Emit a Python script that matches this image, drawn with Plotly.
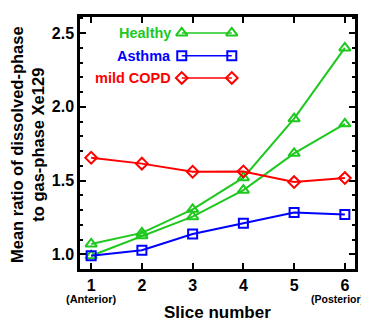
import plotly.graph_objects as go

slices = [1, 2, 3, 4, 5, 6]
healthy_a = [1.07, 1.145, 1.305, 1.52, 1.92, 2.40]
healthy_b = [0.99, 1.125, 1.255, 1.435, 1.685, 1.885]
asthma = [0.99, 1.027, 1.137, 1.21, 1.284, 1.27]
copd = [1.655, 1.615, 1.56, 1.562, 1.49, 1.517]

x_ticks = [1, 2, 3, 4, 5, 6]
y_ticks = [1.0, 1.5, 2.0, 2.5]
y_ticklabels = ["1.0", "1.5", "2.0", "2.5"]

legend_names = ["Healthy", "Asthma", "mild COPD"]
legend_y = [0.937, 0.846, 0.758]

GREEN = "rgb(30,200,30)"
BLUE = "rgb(0,0,255)"
RED = "rgb(255,0,0)"
FONT = "Arial, Liberation Sans, Helvetica, sans-serif"

colors = [GREEN, BLUE, RED]
symbols = ["triangle-up-open", "square-open", "diamond-open"]
sizes = [10, 9, 9]

fig = go.Figure()

series = [(healthy_a, 0), (healthy_b, 0), (asthma, 1), (copd, 2)]
for vals, k in series:
    fig.add_trace(go.Scatter(
        x=slices, y=vals, mode="lines+markers",
        line=dict(color=colors[k], width=2),
        marker=dict(symbol=symbols[k], size=sizes[k], color=colors[k],
                    line=dict(color=colors[k], width=2)),
        showlegend=False, cliponaxis=False))

# custom legend (text left, symbol right)
for i, name in enumerate(legend_names):
    fig.add_trace(go.Scatter(
        x=[0.37, 0.552], y=[legend_y[i], legend_y[i]],
        xaxis="x2", yaxis="y2", mode="lines+markers",
        line=dict(color=colors[i], width=1.5),
        marker=dict(symbol=symbols[i], size=sizes[i], color=colors[i],
                    line=dict(color=colors[i], width=2)),
        showlegend=False, hoverinfo="skip", cliponaxis=False))
    fig.add_annotation(x=0.338, y=legend_y[i], xref="paper", yref="paper",
                       text="<b>%s</b>" % name, showarrow=False,
                       xanchor="right", yanchor="middle",
                       font=dict(family=FONT, size=14.5, color=colors[i]))

axis_common = dict(showline=True, linewidth=2.5, linecolor="black",
                   mirror="allticks", ticks="inside", tickwidth=2,
                   ticklen=6, tickcolor="black", showgrid=False,
                   zeroline=False,
                   tickfont=dict(family=FONT, size=16, color="black"))

# page body has an 8px margin: figure is 8px smaller, plot area stays put
fig.update_layout(
    width=361, height=313,
    margin=dict(l=72, r=14, t=6, b=52),
    plot_bgcolor="white", paper_bgcolor="white",
    xaxis=dict(range=[0.78, 6.2], tickvals=x_ticks,
               ticktext=["<b>%d</b>" % v for v in x_ticks], **axis_common),
    yaxis=dict(range=[0.9, 2.61], tickvals=y_ticks,
               ticktext=["<b>%s</b>" % t for t in y_ticklabels],
               minor=dict(dtick=0.1, ticks="inside", ticklen=3,
                          tickwidth=1.5, tickcolor="black", showgrid=False),
               **axis_common),
    xaxis2=dict(range=[0, 1], overlaying="x", visible=False, fixedrange=True),
    yaxis2=dict(range=[0, 1], overlaying="y", visible=False, fixedrange=True),
)

fig.add_annotation(x=1, y=-0.118, xref="x", yref="paper",
                   text="<b>(Anterior)</b>", showarrow=False,
                   xanchor="center", yanchor="middle",
                   font=dict(family=FONT, size=11, color="black"))
fig.add_annotation(x=6, y=-0.118, xref="x", yref="paper", xshift=-7,
                   text="<b>(Posterior)</b>", showarrow=False,
                   xanchor="center", yanchor="middle",
                   font=dict(family=FONT, size=10.5, color="black"))
fig.add_annotation(x=0.5, y=-0.172, xref="paper", yref="paper",
                   text="<b>Slice number</b>", showarrow=False,
                   xanchor="center", yanchor="middle",
                   font=dict(family=FONT, size=17, color="black"))
fig.add_annotation(x=-0.191, y=0.494, xref="paper", yref="paper",
                   text="<b>Mean ratio of dissolved-phase<br>to gas-phase Xe129</b>",
                   showarrow=False, textangle=-90,
                   xanchor="center", yanchor="middle",
                   font=dict(family=FONT, size=16.5, color="black"))

fig.write_html("out.html")
